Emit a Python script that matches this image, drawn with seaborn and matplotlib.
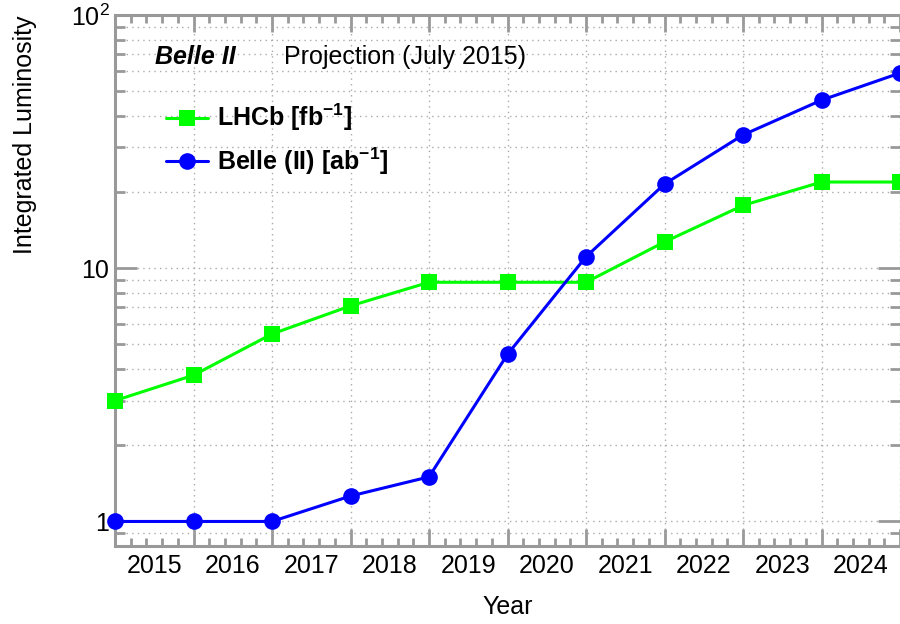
import numpy as np
import pandas as pd
import matplotlib
matplotlib.use("Agg")
import matplotlib.pyplot as plt
import matplotlib.ticker as mticker
import seaborn as sns

# ---- data ----
years = [2015, 2016, 2017, 2018, 2019, 2020, 2021, 2022, 2023, 2024, 2025]
lhcb = [3.0, 3.78, 5.5, 7.1, 8.8, 8.8, 8.8, 12.7, 17.7, 21.9, 21.9]
belle = [1.0, 1.0, 1.0, 1.26, 1.5, 4.57, 11.1, 21.5, 33.6, 46.1, 59.0]
year_labels = ["2015", "2016", "2017", "2018", "2019", "2020", "2021", "2022", "2023", "2024"]

sns.set_theme(style="white")
plt.rcParams['font.family'] = ['Liberation Sans', 'DejaVu Sans']
plt.rcParams['mathtext.fontset'] = 'custom'
plt.rcParams['mathtext.rm'] = 'Liberation Sans'
plt.rcParams['mathtext.bf'] = 'Liberation Sans:bold'
plt.rcParams['text.color'] = 'black'
plt.rcParams['axes.labelcolor'] = 'black'
plt.rcParams['xtick.color'] = 'black'
plt.rcParams['ytick.color'] = 'black'

FS = 18

fig = plt.figure(figsize=(9, 6.24), dpi=100)
ax = fig.add_axes([115/900, 78/624, 785/900, 531/624])

df = pd.DataFrame({"year": years, "lhcb": lhcb, "belle": belle})
sns.lineplot(data=df, x="year", y="lhcb", ax=ax, color="#00ff00", marker="s",
             markersize=11, markeredgewidth=0, linewidth=2.2,
             label=r"LHCb [fb$^{\mathbf{-1}}$]", clip_on=False, zorder=3)
sns.lineplot(data=df, x="year", y="belle", ax=ax, color="#0000ff", marker="o",
             markersize=12, markeredgewidth=0, linewidth=2.2,
             label=r"Belle (II) [ab$^{\mathbf{-1}}$]", clip_on=False, zorder=4)

ax.set_yscale("log")
ax.set_xlim(2015, 2025)
ax.set_ylim(0.8, 100)

spine_c = "#999999"
for s in ["left", "bottom", "top"]:
    ax.spines[s].set_visible(True)
    ax.spines[s].set_color(spine_c)
    ax.spines[s].set_linewidth(2.2)
ax.spines["right"].set_visible(False)

# x ticks
ax.xaxis.set_major_locator(mticker.MultipleLocator(1))
ax.xaxis.set_minor_locator(mticker.MultipleLocator(0.2))
ax.xaxis.set_major_formatter(mticker.NullFormatter())
ax.tick_params(axis="x", which="major", direction="in", length=12, width=2,
               color=spine_c, top=True, bottom=True)
ax.tick_params(axis="x", which="minor", direction="in", length=6, width=2,
               color=spine_c, top=True, bottom=True)

# y ticks
ax.yaxis.set_major_locator(mticker.LogLocator(base=10, numticks=10))
ax.yaxis.set_minor_locator(mticker.LogLocator(base=10, subs=np.arange(2, 10), numticks=20))
ax.yaxis.set_minor_formatter(mticker.NullFormatter())

def yfmt(v, pos):
    if abs(v - 1) < 1e-9:
        return "1"
    if abs(v - 10) < 1e-9:
        return "10"
    if abs(v - 100) < 1e-9:
        return r"10$^{2}$"
    return ""
ax.yaxis.set_major_formatter(mticker.FuncFormatter(yfmt))
ax.tick_params(axis="y", which="major", direction="in", length=16, width=2,
               color=spine_c, labelcolor="black", left=True, right=True,
               labelsize=FS, pad=4)
ax.tick_params(axis="y", which="minor", direction="in", length=7, width=2,
               color=spine_c, left=True, right=True)

# year labels between major ticks
sec = ax.secondary_xaxis("bottom")
sec.set_xticks([y + 0.5 for y in years[:-1]])
sec.set_xticklabels(year_labels, fontsize=FS, color="black")
sec.tick_params(length=0, pad=6)
sec.spines["bottom"].set_visible(False)

# grid
ax.grid(True, which="major", axis="x", color="#aaaaaa", linestyle=(0, (1, 3)), linewidth=1)
ax.grid(True, which="both", axis="y", color="#aaaaaa", linestyle=(0, (1, 3)), linewidth=1)
ax.set_axisbelow(True)

ax.set_xlabel("Year", fontsize=FS, labelpad=32, color="black")
ax.set_ylabel("Integrated Luminosity", fontsize=FS, loc="top", labelpad=24, color="black")

ax.text(0.051, 0.92, "Belle II", transform=ax.transAxes, fontsize=FS,
        fontweight="bold", fontstyle="italic", va="center", ha="left", color="black")
ax.text(0.215, 0.92, "Projection (July 2015)", transform=ax.transAxes,
        fontsize=FS, va="center", ha="left", color="black")

leg = ax.legend(loc="upper left", bbox_to_anchor=(0.052, 0.855), frameon=False,
                prop={"size": FS, "weight": "bold"}, handlelength=1.7,
                handletextpad=0.35, labelspacing=0.48, borderaxespad=0)
for t in leg.get_texts():
    t.set_color("black")

fig.savefig("out.png", dpi=100)
